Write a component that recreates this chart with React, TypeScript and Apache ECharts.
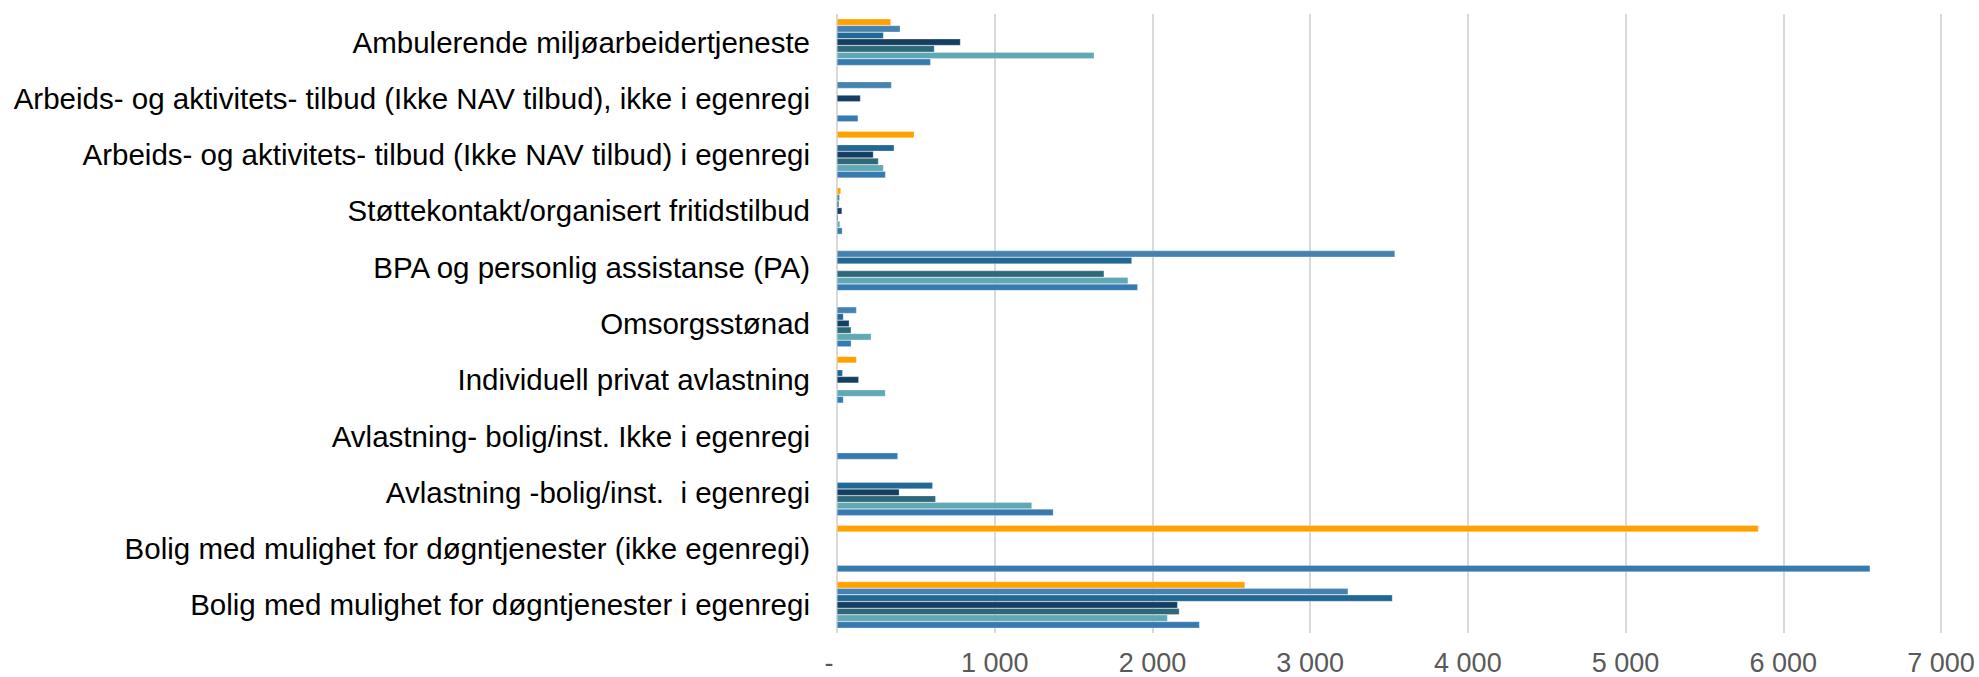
import React, { useEffect, useRef } from "react";
import * as echarts from "echarts";

const categories = [
  "Ambulerende miljøarbeidertjeneste",
  "Arbeids- og aktivitets- tilbud (Ikke NAV tilbud), ikke i egenregi",
  "Arbeids- og aktivitets- tilbud (Ikke NAV tilbud) i egenregi",
  "Støttekontakt/organisert fritidstilbud",
  "BPA og personlig assistanse (PA)",
  "Omsorgsstønad",
  "Individuell privat avlastning",
  "Avlastning- bolig/inst. Ikke i egenregi",
  "Avlastning -bolig/inst.  i egenregi",
  "Bolig med mulighet for døgntjenester (ikke egenregi)",
  "Bolig med mulighet for døgntjenester i egenregi",
];

const serie1 = [342, null, 490, 25, null, null, 124, null, null, 5843, 2587];
const serie2 = [401, 346, null, 17, 3538, 124, null, null, null, null, 3241];
const serie3 = [295, null, 363, 13, 1870, 41, 36, null, 607, null, 3522];
const serie4 = [783, 149, 231, 32, null, 78, 138, null, 395, null, 2160];
const serie5 = [618, null, 263, 8, 1694, 90, null, null, 626, null, 2171];
const serie6 = [1631, null, 295, 19, 1846, 217, 307, null, 1236, null, 2096];
const serie7 = [594, 134, 308, 34, 1907, 91, 41, 386, 1372, 6551, 2299];

const seriesNames = ["Serie 1", "Serie 2", "Serie 3", "Serie 4", "Serie 5", "Serie 6", "Serie 7"];
const seriesData = [serie1, serie2, serie3, serie4, serie5, serie6, serie7];
const colors = ["#FFA200", "#4682B0", "#226895", "#153F62", "#2F6979", "#5FA8B4", "#377AAF"];

const fmt = (v: number) =>
  v === 0 ? "{z|-}" : String(v).replace(/\B(?=(\d{3})+(?!\d))/g, " ");

export default function App() {
  const ref = useRef<HTMLDivElement>(null);
  useEffect(() => {
    if (!ref.current) return;
    const chart = echarts.init(ref.current, undefined, { renderer: "svg" });
    chart.setOption({
      animation: false,
      backgroundColor: "#ffffff",
      grid: {
        left: 837,
        right: 38,
        top: 14,
        bottom: 44,
        containLabel: false,
        outerBoundsMode: "none",
      },
      xAxis: {
        type: "value",
        min: 0,
        max: 7000,
        interval: 1000,
        axisLine: { show: false },
        axisTick: { show: false },
        splitLine: { show: true, lineStyle: { color: "#D9D9D9", width: 2 } },
        axisLabel: {
          formatter: fmt,
          color: "#595959",
          fontFamily: "Liberation Sans, Arial, sans-serif",
          fontSize: 27,
          lineHeight: 27,
          margin: 16,
          rich: {
            z: {
              color: "#595959",
              fontFamily: "Liberation Sans, Arial, sans-serif",
              fontSize: 27,
              lineHeight: 27,
              padding: [0, 16, 0, 0],
            },
          },
        },
      },
      yAxis: {
        type: "category",
        inverse: true,
        data: categories,
        axisLine: { show: false },
        axisTick: { show: false },
        axisLabel: {
          interval: 0,
          color: "#000000",
          fontFamily: "Liberation Sans, Arial, sans-serif",
          fontSize: 29.5,
          margin: 27,
        },
      },
      series: seriesData.map((d, i) => ({
        type: "bar",
        name: seriesNames[i],
        data: d,
        barGap: "0%",
        barCategoryGap: "17%",
        itemStyle: { color: colors[i], borderColor: "rgba(255,255,255,0.5)", borderWidth: 0.5 },
      })),
    });
    return () => chart.dispose();
  }, []);
  return (
    <div
      ref={ref}
      style={{ position: "absolute", left: 0, top: 0, width: 1979, height: 677 }}
    />
  );
}
